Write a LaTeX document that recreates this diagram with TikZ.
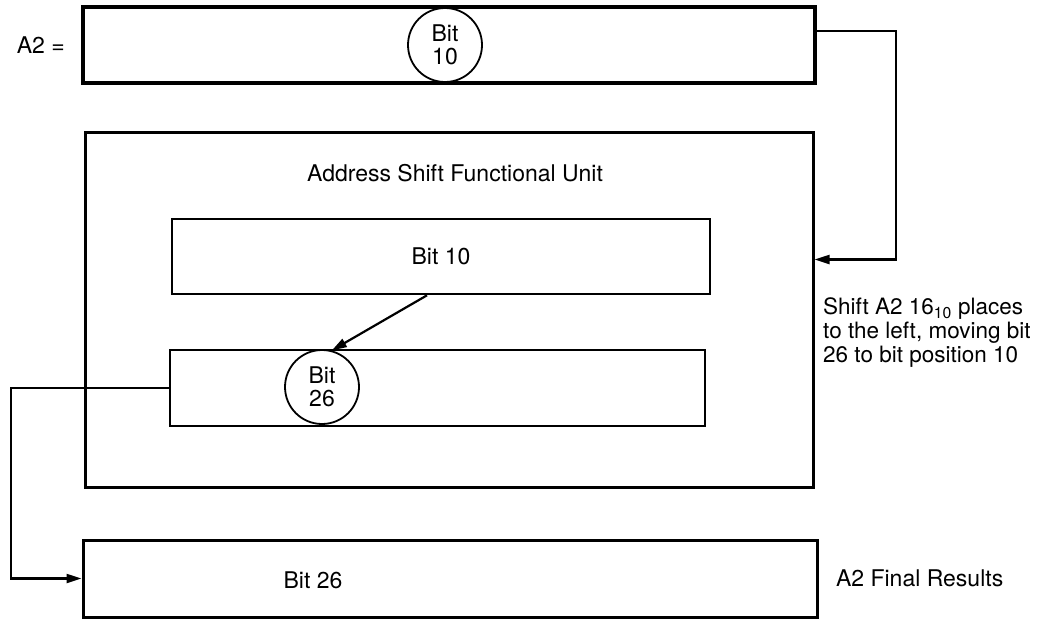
\documentclass[tikz,border=0pt]{standalone}
\usepackage{fontspec}
\setmainfont{TeX Gyre Heros}
\usetikzlibrary{arrows.meta,positioning}

\begin{document}
\begin{tikzpicture}[x=1pt,y=-1pt,font=\fontsize{23}{23}\selectfont,
  reg/.style={draw,line width=3pt,inner sep=0pt},
  bitc/.style={draw,circle,line width=1.8pt,fill=white,minimum size=74pt,inner sep=0pt,align=center},
  link/.style={line width=2.2pt,-{Triangle[length=15pt,width=9pt]}}]
  \useasboundingbox (0,0) rectangle (1059,622);
  % registers and the functional unit
  \node[reg,line width=3.5pt,minimum width=732pt,minimum height=76pt] (topreg) at (449,45) {};
  \node[left=13pt of topreg] (a2) {A2 =};
  \node[bitc] (c10) at (445,45) {Bit\\10};
  \node[reg,minimum width=728pt,minimum height=355pt] (unit) at (449,309.5) {};
  \node (title) at (455,173) {Address Shift Functional Unit};
  \node[reg,line width=2.6pt,minimum width=538pt,minimum height=75pt] (box10) at (441,256.5) {Bit 10};
  \node[reg,line width=2.6pt,minimum width=535pt,minimum height=76pt] (box26) at (437.5,388) {};
  \node[bitc] (c26) at (322,387) {Bit\\26};
  \node[reg,minimum width=734pt,minimum height=77pt] (result) at (450,578.5) {};
  \node (b26) at (313,580) {Bit 26};
  \node[right=14pt of result] (final) {A2 Final Results};
  \node[anchor=north west,align=left,inner sep=0pt,font=\fontsize{22.5}{24}\selectfont] (note) at (823,297)
    {Shift A2 16\textsubscript{10} places\\to the left, moving bit\\26 to bit position 10};
  % connectors
  \draw[link] ([yshift=14pt]topreg.east) -- ++(79,0) |- ([yshift=50pt]unit.east);
  \draw[link] ([xshift=-14pt]box10.south) -- (c26.75);
  \draw[link] (box26.west) -- ++(-158,0) |- (result.west);
\end{tikzpicture}
\end{document}
